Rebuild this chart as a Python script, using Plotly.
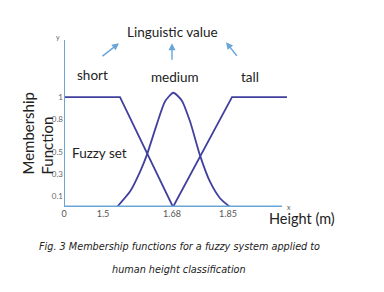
import plotly.graph_objects as go

# Positions are along the drawn (non-linear) height axis, in axis units
tick_pos = [0, 3.9, 10.8, 16.4]
tick_labels = ["0", "1.5", "1.68", "1.85"]

y_tick_vals = [0.1, 0.3, 0.5, 0.8, 1]
y_tick_labels = ["0.1", "0.3", "0.5", "0.8", "1"]

short_x = [0, 5.6, 10.9]
short_y = [1, 1, 0]

medium_x = [5.3, 6.6, 7.6, 8.27, 9.27, 10.1, 10.93, 11.77, 12.6, 13.6, 14.6, 15.6, 16.6]
medium_y = [0, 0.14, 0.32, 0.47, 0.75, 0.96, 1.04, 0.97, 0.78, 0.47, 0.23, 0.08, 0]

tall_x = [10.9, 16.8, 22.3]
tall_y = [0, 1, 1]

curve_color = "#40409e"
axis_color = "#6aa5d8"
text_font = "Lato, Open Sans, sans-serif"

fig = go.Figure()
for xs, ys in [(short_x, short_y), (medium_x, medium_y), (tall_x, tall_y)]:
    line = dict(color=curve_color, width=1.8)
    if len(xs) > 3:
        line.update(shape="spline", smoothing=0.6)
    fig.add_trace(go.Scatter(x=xs, y=ys, mode="lines", line=line,
                             showlegend=False, hoverinfo="skip"))

# axis lines
fig.add_shape(type="line", x0=0, x1=21.8, y0=0, y1=0, xref="x", yref="y",
              line=dict(color=axis_color, width=3))
fig.add_shape(type="line", x0=0, x1=0, y0=0, y1=1.52, xref="x", yref="y",
              line=dict(color=axis_color, width=2))

ann = []
def txt(x, y, s, size, ref="data", **kw):
    r = ("x", "y") if ref == "data" else ("paper", "paper")
    d = dict(x=x, y=y, xref=r[0], yref=r[1], text=s, showarrow=False,
             xanchor="center", yanchor="middle",
             font=dict(family=kw.pop("family", text_font), size=size,
                       color=kw.pop("color", "#222")))
    d.update(kw)
    ann.append(d)

txt(0.47, 1.048, "Linguistic value", 13.5, ref="paper")
txt(2.8, 1.2, "short", 13.5)
txt(11.1, 1.18, "medium", 13.5)
txt(18.6, 1.18, "tall", 13.5)
txt(3.55, 0.49, "Fuzzy set", 13.5)
txt(-0.115, 0.443, "Membership<br>Function", 15, ref="paper", textangle=-90, align="left")
txt(1.035, -0.066, "Height (m)", 14.5, ref="paper")
txt(22.1, 0.0, "x", 7, xanchor="left", color="#555")
txt(-0.026, 1.018, "y", 7, ref="paper", color="#555")
txt(0.5, -0.2395, "<i>Fig. 3 Membership functions for a fuzzy system applied to</i>", 9.7,
    ref="paper", family="DejaVu Sans, Verdana, sans-serif")
txt(0.5, -0.377, "<i>human height classification</i>", 9.7,
    ref="paper", family="DejaVu Sans, Verdana, sans-serif")

for hx, hy, axp, ayp in [(5.5, 1.49, -18, 14), (10.8, 1.49, 0, 18), (16.2, 1.5, 12, 15)]:
    ann.append(dict(x=hx, y=hy, xref="x", yref="y", ax=axp, ay=ayp, text="",
                    showarrow=True, arrowhead=2, arrowsize=1, arrowwidth=1.4,
                    arrowcolor=axis_color))

fig.update_layout(
    width=384, height=292,
    margin=dict(l=64, r=90, t=40, b=85),
    plot_bgcolor="white", paper_bgcolor="white",
    annotations=ann,
    xaxis=dict(range=[0, 23], showgrid=False, zeroline=False, showline=False,
               tickvals=tick_pos, ticktext=tick_labels, ticks="",
               tickfont=dict(family=text_font, size=9, color="#555")),
    yaxis=dict(range=[0, 1.52], showgrid=False, zeroline=False, showline=False,
               tickvals=y_tick_vals, ticktext=y_tick_labels, ticks="",
               tickfont=dict(family=text_font, size=8, color="#666")),
)

fig.write_html("out.html")
